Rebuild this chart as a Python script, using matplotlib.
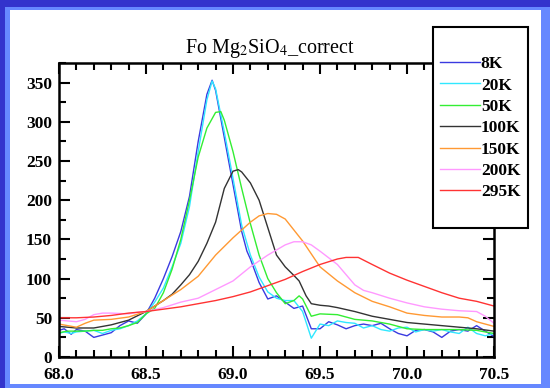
import matplotlib
matplotlib.use("Agg")
import matplotlib.pyplot as plt
from matplotlib.patches import Rectangle
from matplotlib.ticker import MultipleLocator

plt.rcParams['font.family'] = ['Liberation Serif', 'DejaVu Serif']
plt.rcParams['mathtext.fontset'] = 'stix'

# ---------------- data ----------------
labels = ["8K", "20K", "50K", "100K", "150K", "200K", "295K"]
colors = ["#3a3ae0", "#30e8ff", "#33ee33", "#333333", "#ff9933", "#ff99ff", "#ff3333"]

x_8K = [68.0, 68.03, 68.07, 68.1, 68.15, 68.2, 68.25, 68.3, 68.35, 68.4, 68.45, 68.5, 68.55, 68.6, 68.65,
        68.7, 68.75, 68.8, 68.85, 68.88, 68.9, 68.95, 69.0, 69.05, 69.08, 69.1, 69.15, 69.2, 69.25, 69.3,
        69.35, 69.4, 69.45, 69.5, 69.55, 69.6, 69.65, 69.7, 69.75, 69.8, 69.85, 69.9, 69.95, 70.0, 70.05,
        70.1, 70.15, 70.2, 70.25, 70.3, 70.35, 70.4, 70.45, 70.5]
y_8K = [34, 36, 29, 35, 33, 25, 28, 31, 40, 46, 43, 55, 75, 100, 128,
        160, 205, 275, 335, 353, 340, 280, 220, 160, 135, 125, 95, 74, 78, 70,
        62, 65, 36, 36, 45, 41, 36, 40, 42, 40, 43, 36, 30, 27, 34,
        35, 32, 25, 33, 35, 33, 40, 33, 26]

x_20K = x_8K
y_20K = [30, 32, 30, 32, 33, 34, 30, 34, 36, 40, 46, 55, 70, 88, 115,
         145, 192, 262, 328, 352, 342, 287, 228, 168, 145, 130, 102, 83, 75, 72,
         72, 58, 24, 42, 40, 46, 44, 43, 37, 40, 35, 33, 37, 38, 32,
         35, 33, 35, 32, 30, 38, 30, 27, 30]

x_50K = [68.0, 68.05, 68.1, 68.15, 68.2, 68.25, 68.3, 68.35, 68.4, 68.45, 68.5, 68.55, 68.6, 68.65, 68.7,
         68.75, 68.8, 68.85, 68.9, 68.93, 68.95, 69.0, 69.05, 69.1, 69.15, 69.2, 69.25, 69.3, 69.35, 69.38,
         69.4, 69.45, 69.5, 69.6, 69.7, 69.8, 69.9, 70.0, 70.1, 70.2, 70.3, 70.4, 70.5]
y_50K = [31, 33, 33, 33, 34, 34, 36, 37, 40, 44, 55, 62, 82, 112, 150,
         200, 255, 292, 312, 313, 302, 262, 215, 170, 130, 100, 82, 68, 72, 78,
         74, 52, 55, 54, 48, 46, 42, 36, 35, 35, 35, 34, 30]

x_100K = [68.0, 68.1, 68.2, 68.3, 68.4, 68.5, 68.6, 68.65, 68.7, 68.75, 68.8, 68.85, 68.9, 68.95, 69.0,
          69.03, 69.05, 69.1, 69.15, 69.2, 69.25, 69.3, 69.35, 69.38, 69.42, 69.45, 69.5, 69.55, 69.6, 69.7,
          69.8, 69.9, 70.0, 70.1, 70.2, 70.3, 70.4, 70.5]
y_100K = [39, 37, 37, 41, 47, 58, 72, 80, 92, 105, 122, 145, 172, 215, 237,
          239, 236, 222, 200, 165, 130, 115, 104, 97, 78, 68, 66, 65, 63, 58,
          52, 48, 44, 42, 40, 38, 36, 33]

x_150K = [68.0, 68.05, 68.1, 68.15, 68.2, 68.3, 68.4, 68.5, 68.6, 68.7, 68.8, 68.9, 69.0, 69.1, 69.15,
          69.2, 69.25, 69.3, 69.35, 69.4, 69.5, 69.6, 69.7, 69.8, 69.9, 70.0, 70.1, 70.2, 70.3, 70.35,
          70.4, 70.5]
y_150K = [42, 40, 38, 43, 47, 48, 51, 58, 72, 86, 103, 130, 152, 172, 180,
          183, 182, 176, 162, 148, 115, 97, 82, 71, 64, 56, 53, 51, 51, 50,
          45, 39]

x_200K = [68.0, 68.05, 68.1, 68.15, 68.2, 68.25, 68.3, 68.4, 68.45, 68.5, 68.6, 68.7, 68.8, 68.9, 69.0,
          69.1, 69.2, 69.3, 69.35, 69.4, 69.45, 69.5, 69.6, 69.7, 69.75, 69.8, 69.9, 70.0, 70.1, 70.2,
          70.3, 70.4, 70.45, 70.5]
y_200K = [47, 46, 45, 48, 54, 56, 56, 55, 57, 58, 63, 70, 75, 86, 97,
          115, 130, 143, 147, 147, 143, 135, 118, 92, 85, 82, 75, 69, 64, 61,
          59, 58, 52, 43]

x_295K = [68.0, 68.1, 68.2, 68.3, 68.4, 68.5, 68.6, 68.7, 68.8, 68.9, 69.0, 69.1, 69.2, 69.3, 69.4,
          69.5, 69.6, 69.65, 69.72, 69.8, 69.9, 70.0, 70.1, 70.2, 70.3, 70.4, 70.5]
y_295K = [50, 50, 51, 53, 56, 58, 61, 64, 68, 72, 77, 83, 91, 99, 109,
          118, 125, 127, 127, 118, 107, 98, 90, 82, 75, 71, 65]

series_x = [x_8K, x_20K, x_50K, x_100K, x_150K, x_200K, x_295K]
series_y = [y_8K, y_20K, y_50K, y_100K, y_150K, y_200K, y_295K]

title_text = "Fo Mg$_2$SiO$_4$_correct"
xticks = [68.0, 68.5, 69.0, 69.5, 70.0, 70.5]
yticks = [0, 50, 100, 150, 200, 250, 300, 350]

# ---------------- figure ----------------
W, H = 550, 388
fig = plt.figure(figsize=(W / 100, H / 100), dpi=100)
fig.patch.set_facecolor("#3333cc")
fig.patches.append(Rectangle((5 / W, 0), 1 - 5 / W, 1 - 7 / H, transform=fig.transFigure,
                             facecolor="#6688ff", edgecolor="none", zorder=-3))
fig.patches.append(Rectangle((10 / W, 4 / H), 531 / W, 1 - 10 / H - 4 / H, transform=fig.transFigure,
                             facecolor="white", edgecolor="none", zorder=-2))

ax = fig.add_axes([59 / W, 1 - 357 / H, 435 / W, 294 / H])
ax.set_facecolor("white")
lines = []
for xs, ys, c, lab in zip(series_x, series_y, colors, labels):
    ln, = ax.plot(xs, ys, color=c, lw=1.0, label=lab)
    lines.append(ln)

ax.set_xlim(68.0, 70.5)
ax.set_ylim(0, 375)
ax.set_xticks(xticks)
ax.set_xticklabels([f"{v:.1f}" for v in xticks])
ax.set_yticks(yticks)
ax.set_yticklabels([str(v) for v in yticks])
ax.xaxis.set_minor_locator(MultipleLocator(0.1))
ax.yaxis.set_minor_locator(MultipleLocator(25))
ax.tick_params(which="both", direction="in", top=True, right=True, width=1.5, colors="black")
ax.tick_params(which="major", length=8, labelsize=12.5)
ax.tick_params(axis="x", which="major", pad=7)
ax.tick_params(axis="y", which="major", pad=5)
ax.tick_params(which="minor", length=5)
for lab in ax.get_xticklabels() + ax.get_yticklabels():
    lab.set_fontweight("bold")
for sp in ax.spines.values():
    sp.set_linewidth(1.8)

fig.text(270 / W, 1 - 53 / H, title_text, ha="center", va="baseline", fontsize=14.5)

# legend box
fig.add_artist(Rectangle((433 / W, 1 - 228 / H), 95 / W, 201 / H, transform=fig.transFigure,
                         facecolor="white", edgecolor="black", lw=1.5, zorder=5))
leg = fig.legend(lines, labels, loc="upper left", bbox_to_anchor=(440 / W, 1 - 56 / H),
                 frameon=False, borderpad=0, borderaxespad=0, handlelength=2.3, handletextpad=0.05,
                 labelspacing=0.3, prop={"size": 12.5, "weight": "bold"})
leg.set_zorder(10)

fig.savefig("out.png", dpi=100, facecolor=fig.get_facecolor())
